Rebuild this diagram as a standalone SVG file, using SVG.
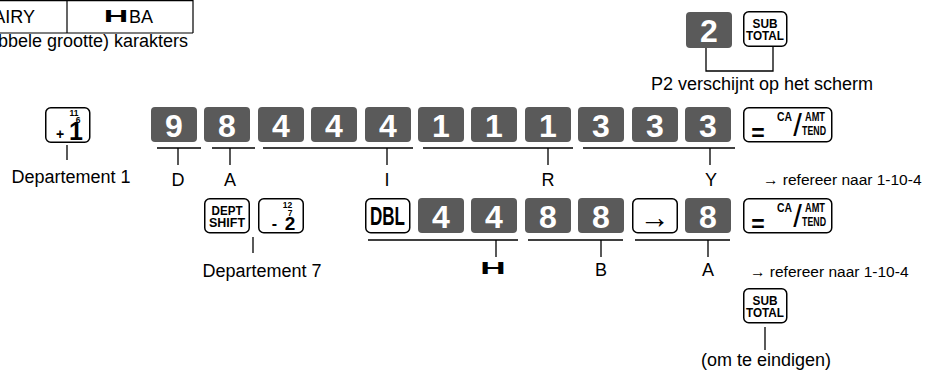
<svg xmlns="http://www.w3.org/2000/svg" width="928" height="370" viewBox="0 0 928 370">
<style>
text{font-family:"Liberation Sans",Arial,Helvetica,sans-serif;fill:#000}
.lbl{font-size:18px}
.mid{text-anchor:middle}
.ref{font-size:15.5px}
.dk rect{fill:#5a5a5a}
.dk text{fill:#fff;font-weight:bold;font-size:32px;text-anchor:middle}
.wk rect{fill:#fff;stroke:#000;stroke-width:1.5}
.wk text{font-weight:bold;text-anchor:middle}
.wk text.thin{font-weight:normal}
.ln{stroke:#000;stroke-width:1.3;fill:none}
.tb{stroke:#000;stroke-width:1.2;fill:none}
</style>
<rect width="928" height="370" fill="#fff"/>

<g id="table">
  <path class="tb" d="M0 0.6H193M0 33H193M67 0V33M193 0V33"/>
  <text class="lbl" x="35" y="23" text-anchor="end">AIRY</text>
  <text transform="translate(116,22) scale(2,1)" class="mid" style="font-size:17px;font-weight:bold">H</text>
  <text class="lbl" x="129" y="23">BA</text>
  <text class="lbl" x="188" y="47" text-anchor="end">(dubbele grootte) karakters</text>
</g>

<g id="connectors">
  <path class="ln" d="M706 48V71H773V47"/>
  <path class="ln" d="M67 145V160"/>
  <path class="ln" d="M157 148H201M212 148H255M263 148H413M423 148H573M583 148H735"/>
  <path class="ln" d="M178 148V165M230 148V165M387 148V165M548 148V165M710 148V165"/>
  <path class="ln" d="M253 237V253"/>
  <path class="ln" d="M368 240H518M528 240H623M635 240H730"/>
  <path class="ln" d="M496 240V257M601 240V257M708 240V257"/>
  <path class="ln" d="M765 327V350"/>
</g>

<g id="top-keys">
  <g id="key-2-top" class="dk"><rect x="686" y="12" width="46" height="36" rx="4"/><text x="709" y="42">2</text></g>
  <g id="key-subtotal-top" class="wk"><rect x="743.75" y="11.75" width="43" height="34.5" rx="5"/>
    <text x="765" y="28" style="font-size:13.5px" textLength="25" lengthAdjust="spacingAndGlyphs">SUB</text>
    <text x="765" y="39.5" style="font-size:13.5px" textLength="38" lengthAdjust="spacingAndGlyphs">TOTAL</text></g>
  <text id="lbl-p2" class="lbl mid" x="762" y="90">P2 verschijnt op het scherm</text>
</g>

<g id="row1">
  <g id="key-dept1" class="wk"><rect x="45.75" y="107.75" width="44" height="34.5" rx="5"/>
    <text x="74" y="115.5" style="font-size:8.5px">11</text>
    <text x="78" y="123" style="font-size:8.5px">6</text>
    <text x="60" y="139" style="font-size:14px">+</text>
    <text x="76" y="139.5" style="font-size:25px">1</text></g>
  <g id="keys-row1" class="dk">
    <rect x="151" y="107" width="46" height="35" rx="4"/><text x="174" y="137">9</text>
    <rect x="204" y="107" width="46" height="35" rx="4"/><text x="227" y="137">8</text>
    <rect x="258" y="107" width="46" height="35" rx="4"/><text x="281" y="137">4</text>
    <rect x="311" y="107" width="46" height="35" rx="4"/><text x="334" y="137">4</text>
    <rect x="365" y="107" width="46" height="35" rx="4"/><text x="388" y="137">4</text>
    <rect x="418" y="107" width="46" height="35" rx="4"/><text x="441" y="137">1</text>
    <rect x="471" y="107" width="46" height="35" rx="4"/><text x="494" y="137">1</text>
    <rect x="525" y="107" width="46" height="35" rx="4"/><text x="548" y="137">1</text>
    <rect x="578" y="107" width="46" height="35" rx="4"/><text x="601" y="137">3</text>
    <rect x="632" y="107" width="46" height="35" rx="4"/><text x="655" y="137">3</text>
    <rect x="685" y="107" width="46" height="35" rx="4"/><text x="708" y="137">3</text>
  </g>
  <g id="key-ca-1" class="wk"><rect x="743.75" y="107.75" width="88" height="34" rx="5"/>
    <text x="758" y="141" style="font-size:23px">=</text>
    <text x="784.5" y="121" style="font-size:12px" textLength="15" lengthAdjust="spacingAndGlyphs">CA</text>
    <text class="thin" x="797.5" y="136" style="font-size:31px">/</text>
    <text x="815" y="121" style="font-size:12px" textLength="20" lengthAdjust="spacingAndGlyphs">AMT</text>
    <text x="814" y="134.5" style="font-size:12px" textLength="24" lengthAdjust="spacingAndGlyphs">TEND</text></g>
  <text id="lbl-dept1" class="lbl mid" x="71" y="183">Departement 1</text>
  <g id="letters-row1" class="lbl mid">
    <text x="178" y="186">D</text><text x="230" y="186">A</text><text x="387" y="186">I</text><text x="548" y="186">R</text><text x="711" y="186">Y</text>
  </g>
  <text id="ref-1" class="ref" x="763" y="185">→ refereer naar 1-10-4</text>
</g>

<g id="row2">
  <g id="key-deptshift" class="wk"><rect x="204.75" y="198.75" width="44.5" height="34" rx="5"/>
    <text x="227" y="215" style="font-size:12.5px" textLength="31" lengthAdjust="spacingAndGlyphs">DEPT</text>
    <text x="227" y="226.5" style="font-size:12.5px" textLength="36" lengthAdjust="spacingAndGlyphs">SHIFT</text></g>
  <g id="key-dept2" class="wk"><rect x="258.75" y="198.75" width="44.5" height="34" rx="5"/>
    <text x="287.5" y="207.5" style="font-size:8.5px">12</text>
    <text x="290" y="215.5" style="font-size:8.5px">7</text>
    <text x="274.5" y="229" style="font-size:16px">-</text>
    <text x="290" y="229.5" style="font-size:19px">2</text></g>
  <g id="key-dbl" class="wk"><rect x="365.75" y="198.75" width="44" height="34" rx="5"/>
    <text x="387.5" y="225" style="font-size:26px" textLength="35" lengthAdjust="spacingAndGlyphs">DBL</text></g>
  <g id="keys-row2" class="dk">
    <rect x="418" y="198" width="46" height="35" rx="4"/><text x="441" y="228">4</text>
    <rect x="471" y="198" width="46" height="35" rx="4"/><text x="494" y="228">4</text>
    <rect x="525" y="198" width="46" height="35" rx="4"/><text x="548" y="228">8</text>
    <rect x="578" y="198" width="46" height="35" rx="4"/><text x="601" y="228">8</text>
    <rect x="685" y="198" width="46" height="35" rx="4"/><text x="708" y="228">8</text>
  </g>
  <g id="key-arrow" class="wk"><rect x="632.75" y="198.75" width="44.5" height="34" rx="5"/>
    <text class="thin" x="654.5" y="228" style="font-size:32px" textLength="30" lengthAdjust="spacingAndGlyphs">→</text></g>
  <g id="key-ca-2" class="wk"><rect x="743.75" y="198.75" width="88" height="34" rx="5"/>
    <text x="758" y="232" style="font-size:23px">=</text>
    <text x="784.5" y="212" style="font-size:12px" textLength="15" lengthAdjust="spacingAndGlyphs">CA</text>
    <text class="thin" x="797.5" y="227" style="font-size:31px">/</text>
    <text x="815" y="212" style="font-size:12px" textLength="20" lengthAdjust="spacingAndGlyphs">AMT</text>
    <text x="814" y="225.5" style="font-size:12px" textLength="24" lengthAdjust="spacingAndGlyphs">TEND</text></g>
  <text id="lbl-dept7" class="lbl mid" x="262" y="277">Departement 7</text>
  <g id="letters-row2" class="lbl mid">
    <text transform="translate(493,273.5) scale(2.2,1)" style="font-size:16px;font-weight:bold">H</text>
    <text x="601" y="276">B</text><text x="708" y="276">A</text>
  </g>
  <text id="ref-2" class="ref" x="750" y="277">→ refereer naar 1-10-4</text>
</g>

<g id="end">
  <g id="key-subtotal-end" class="wk"><rect x="743.75" y="288.75" width="43" height="34" rx="5"/>
    <text x="765" y="305" style="font-size:13.5px" textLength="25" lengthAdjust="spacingAndGlyphs">SUB</text>
    <text x="765" y="316.5" style="font-size:13.5px" textLength="38" lengthAdjust="spacingAndGlyphs">TOTAL</text></g>
  <text id="lbl-end" class="lbl mid" x="766" y="366">(om te eindigen)</text>
</g>
</svg>
